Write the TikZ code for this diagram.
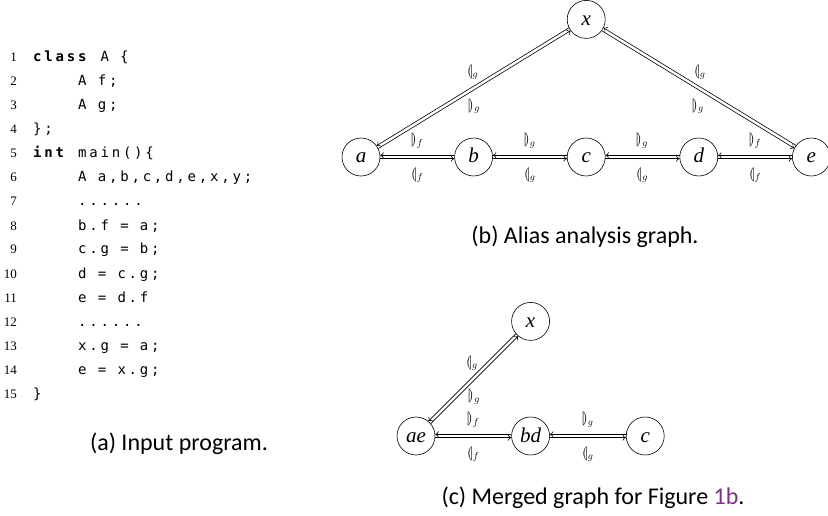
\documentclass[tikz,border=0pt]{standalone}
\usepackage{fontspec}
\usepackage{stmaryrd}
\setmainfont{Liberation Serif}
\setsansfont{Carlito}
\newfontfamily\codefont[LetterSpace=20]{DejaVu Sans Mono}
\usetikzlibrary{arrows.meta,positioning,calc}
\definecolor{linkpurple}{RGB}{128,45,140}

\begin{document}
\begin{tikzpicture}[
  x=1pt, y=-1pt,
  node distance=74pt,
  var/.style={circle, draw, line width=0.6pt, minimum size=38pt, inner sep=0pt, text height=12pt, text depth=0pt, font=\fontsize{21}{21}\selectfont\itshape},
  alias/.style={line width=0.6pt, >={To[length=3.5pt,width=6pt]}},
  lab/.style={inner sep=0pt, font=\fontsize{14}{14}\selectfont},
  code/.style={anchor=base west, inner sep=0pt, font=\fontsize{14}{14}\codefont},
  num/.style={anchor=base east, inner sep=0pt, font=\fontsize{13}{13}\selectfont},
  subcap/.style={inner sep=0pt, font=\fontsize{24}{28}\sffamily}
]
\useasboundingbox (0,0) rectangle (828,516);

% (a) input program
\node[num] (n1) at (17,62) {1};
\node[num] (n2) at (17,86) {2};
\node[num] (n3) at (17,110) {3};
\node[num] (n4) at (17,134) {4};
\node[num] (n5) at (17,158) {5};
\node[num] (n6) at (17,182) {6};
\node[num] (n7) at (17,206) {7};
\node[num] (n8) at (17,230) {8};
\node[num] (n9) at (17,254) {9};
\node[num] (n10) at (17,278) {10};
\node[num] (n11) at (17,302) {11};
\node[num] (n12) at (17,326) {12};
\node[num] (n13) at (17,350) {13};
\node[num] (n14) at (17,374) {14};
\node[num] (n15) at (17,398) {15};

\node[code] (l1) at (33,62) {\textbf{class} A \{};
\node[code] (l2) at (78,86) {A f;};
\node[code] (l3) at (78,110) {A g;};
\node[code] (l4) at (33,134) {\};};
\node[code] (l5) at (33,158) {\textbf{int} main()\{};
\node[code] (l6) at (78,182) {A a,b,c,d,e,x,y;};
\node[code] (l7) at (78,206) {......};
\node[code] (l8) at (78,230) {b.f = a;};
\node[code] (l9) at (78,254) {c.g = b;};
\node[code] (l10) at (78,278) {d = c.g;};
\node[code] (l11) at (78,302) {e = d.f};
\node[code] (l12) at (78,326) {......};
\node[code] (l13) at (78,350) {x.g = a;};
\node[code] (l14) at (78,374) {e = x.g;};
\node[code] (l15) at (33,398) {\}};

\node[subcap] (capa) at (179,444) {(a) Input program.};

% (b) alias analysis graph
\node[var] (a) at (361,157) {a};
\node[var, right=of a] (b) {b};
\node[var, right=of b] (c) {c};
\node[var, right=of c] (d) {d};
\node[var, right=of d] (e) {e};
\node[var, above=99pt of c] (x) {x};

\node[subcap] (capb) at (585,237) {(b) Alias analysis graph.};

% (c) merged graph
\node[var] (ae) at (416,436) {ae};
\node[var, right=76pt of ae] (bd) {bd};
\node[var, right=76pt of bd] (c2) {c};
\node[var, above=76pt of bd] (x2) {x};

\node[subcap] (capc) at (593,498) {(c) Merged graph for Figure {\color{linkpurple}1b}.};

% paired edges
\foreach \u/\v/\up/\dn in {a/b/{\rrparenthesis_f}/{\llparenthesis_f},
                          b/c/{\rrparenthesis_g}/{\llparenthesis_g},
                          c/d/{\rrparenthesis_g}/{\llparenthesis_g},
                          d/e/{\rrparenthesis_f}/{\llparenthesis_f},
                          a/x/{\llparenthesis_g}/{\rrparenthesis_g},
                          x/e/{\llparenthesis_g}/{\rrparenthesis_g},
                          ae/bd/{\rrparenthesis_f}/{\llparenthesis_f},
                          bd/c2/{\rrparenthesis_g}/{\llparenthesis_g},
                          ae/x2/{\llparenthesis_g}/{\rrparenthesis_g}} {
  \draw[alias, <-] let \p1=($(\v)-(\u)$), \n1={atan2(\y1,\x1)},
    \n2={\n1+5}, \n3={\n1+175} in
    (\u.\n2) -- node[lab, midway, above=7pt] (\u-\v-up) {$\up$} (\v.\n3);
  \draw[alias, ->] let \p1=($(\v)-(\u)$), \n1={atan2(\y1,\x1)},
    \n2={\n1-5}, \n3={\n1+185} in
    (\u.\n2) -- node[lab, midway, below=9pt] (\u-\v-dn) {$\dn$} (\v.\n3);
}
\end{tikzpicture}
\end{document}
